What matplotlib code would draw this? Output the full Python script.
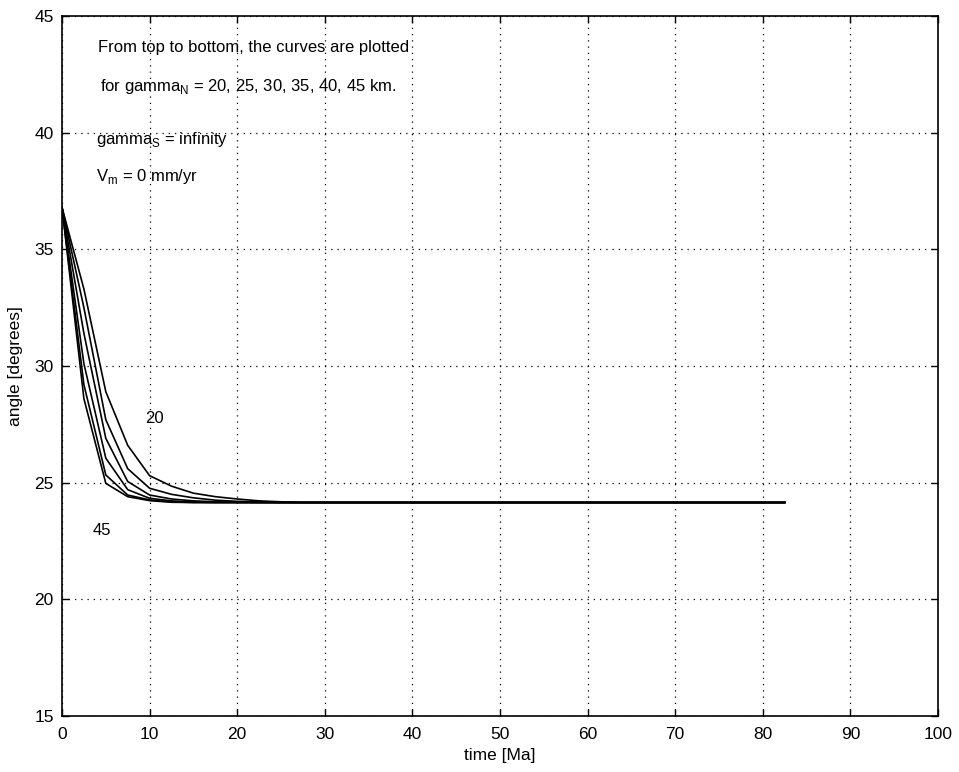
import matplotlib
matplotlib.use("Agg")
import matplotlib.pyplot as plt
import numpy as np

plt.rcParams['font.family'] = ['Liberation Sans', 'DejaVu Sans']
plt.rcParams['mathtext.fontset'] = 'custom'
plt.rcParams['mathtext.rm'] = 'Liberation Sans'

# time axis (Ma)
time = [0, 2.5, 5, 7.5, 10, 12.5, 15, 17.5, 20, 22.5, 25, 27.5, 30, 32.5, 35,
        37.5, 40, 42.5, 45, 47.5, 50, 52.5, 55, 57.5, 60, 62.5, 65, 67.5, 70,
        72.5, 75, 77.5, 80, 82.5]
tail = [24.15] * 23

angle_20 = [36.8, 33.3, 28.9, 26.6, 25.3, 24.85, 24.55, 24.4, 24.3, 24.22, 24.18] + tail
angle_25 = [36.8, 32.5, 27.7, 25.6, 24.76, 24.5, 24.35, 24.25, 24.2, 24.17, 24.15] + tail
angle_30 = [36.8, 31.4, 26.9, 25.05, 24.47, 24.3, 24.22, 24.18, 24.16, 24.15, 24.15] + tail
angle_35 = [36.8, 30.1, 26.05, 24.7, 24.33, 24.22, 24.17, 24.15, 24.15, 24.15, 24.15] + tail
angle_40 = [36.8, 29.2, 25.33, 24.47, 24.26, 24.18, 24.15, 24.15, 24.15, 24.15, 24.15] + tail
angle_45 = [36.8, 28.6, 24.97, 24.4, 24.23, 24.16, 24.15, 24.15, 24.15, 24.15, 24.15] + tail

series = [angle_20, angle_25, angle_30, angle_35, angle_40, angle_45]

xticks = [0, 10, 20, 30, 40, 50, 60, 70, 80, 90, 100]
yticks = [15, 20, 25, 30, 35, 40, 45]

fig = plt.figure(figsize=(9.59, 7.72), dpi=100)
ax = fig.add_axes([62/959, 56/772, 876/959, 700/772])

for s in series:
    ax.plot(time, s, color='black', linewidth=1.2)

ax.set_xlim(0, 100)
ax.set_ylim(15, 45)
ax.set_xticks(xticks)
ax.set_yticks(yticks)
ax.grid(True, color='black', linestyle=(0, (1, 4)), linewidth=0.9)
ax.tick_params(direction='in', length=5, top=True, right=True, labelsize=12.5,
               width=1)
ax.tick_params(axis='x', pad=8)
ax.tick_params(axis='y', pad=6)
for sp in ax.spines.values():
    sp.set_linewidth(1.2)

ax.set_xlabel('time [Ma]', fontsize=12.5, labelpad=4)
ax.set_ylabel('angle [degrees]', fontsize=12.5, labelpad=8)

fs = 12
ax.text(4.1, 43.67, 'From top to bottom, the curves are plotted', fontsize=fs, va='center')
ax.text(4.3, 41.96, r'for gamma$_{\mathrm{N}}$ = 20, 25, 30, 35, 40, 45 km.', fontsize=fs, va='center')
ax.text(3.9, 39.69, r'gamma$_{\mathrm{S}}$ = infinity', fontsize=fs, va='center')
ax.text(3.9, 38.1, r'V$_{\mathrm{m}}$ = 0 mm/yr', fontsize=fs, va='center')
ax.text(9.5, 27.77, '20', fontsize=fs, va='center')
ax.text(3.5, 22.93, '45', fontsize=fs, va='center')

fig.savefig('out.png', dpi=100)
